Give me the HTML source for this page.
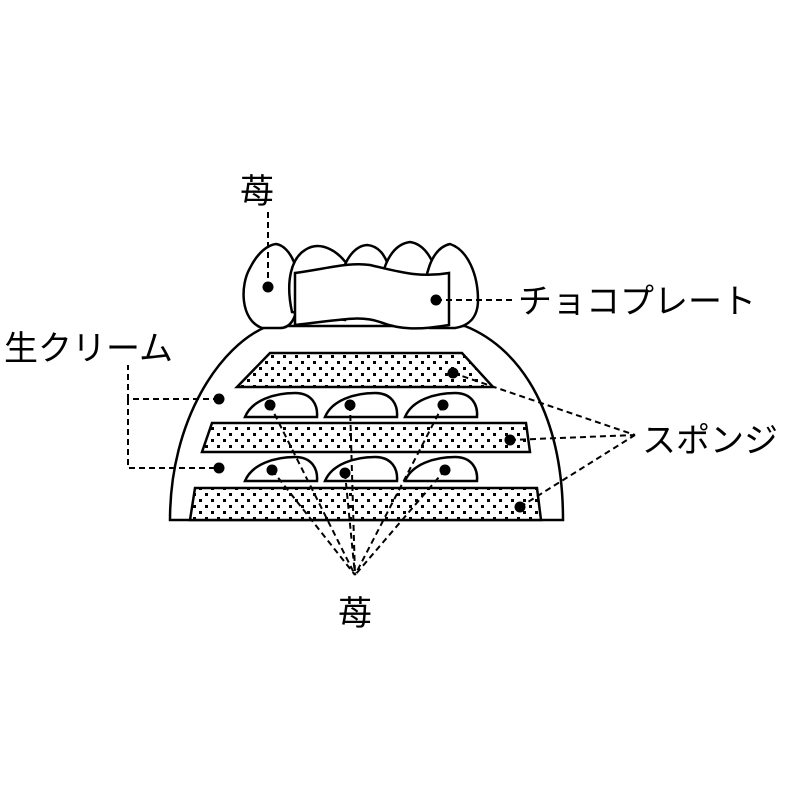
<!DOCTYPE html>
<html><head><meta charset="utf-8"><style>
body{margin:0;background:#fff}
svg{display:block}
text{font-family:"Liberation Sans","Noto Sans CJK JP",sans-serif;font-size:34px;fill:#000}
</style></head><body>
<svg width="800" height="800" viewBox="0 0 800 800" xmlns="http://www.w3.org/2000/svg">
<defs>
<pattern id="dots" width="12" height="12" patternUnits="userSpaceOnUse">
<rect width="12" height="12" fill="#fff"/>
<rect x="1" y="1" width="3" height="3" fill="#000"/>
<rect x="7" y="7" width="3" height="3" fill="#000"/>
</pattern>
</defs>
<g stroke="#000" stroke-width="2.5" fill="#fff">
<path d="M170,520 C170,420 220,345 268,326 L465,326 C525,350 563,420 563,520 Z"/>
<path d="M262,328 C240,320 240,285 250,268 C258,252 268,245 276,244 C290,246 302,270 298,300 C296,320 290,328 280,328 Z"/>
<path d="M292,312 C285,280 292,258 305,250 C320,240 340,250 352,272 L345,320 Z"/>
<path d="M340,280 C345,258 355,246 367,245 C380,246 388,258 390,275 Z"/>
<path d="M380,285 C385,258 395,244 410,242 C424,244 434,258 440,285 Z"/>
<path d="M425,310 C422,275 432,248 450,244 C468,250 478,275 478,300 C478,318 468,326 455,328 L430,328 Z"/>
<path d="M295,273 C330,268 350,262 370,265 C400,272 420,278 449,273 L449,325 C420,330 400,330 380,322 C360,315 340,320 295,325 Z"/>
<path d="M270,353 L462,353 L493,387 L237,387 Z" fill="url(#dots)"/>
<path d="M212,423 L526,423 L530,452 L202,452 Z" fill="url(#dots)"/>
<path d="M195,488 L537,488 L541,520 L190,520 Z" fill="url(#dots)"/>
<path d="M245,417 C252,400 275,393 295,393 C312,393 318,405 317,417 Z"/>
<path d="M325,417 C332,400 355,393 375,393 C392,393 398,405 397,417 Z"/>
<path d="M405,417 C412,400 435,393 455,393 C472,393 478,405 477,417 Z"/>
<path d="M245,481 C252,464 275,457 295,457 C312,457 318,469 317,481 Z"/>
<path d="M325,481 C332,464 355,457 375,457 C392,457 398,469 397,481 Z"/>
<path d="M405,481 C412,464 435,457 455,457 C472,457 478,469 477,481 Z"/>
</g>
<g stroke="#000" stroke-width="2" stroke-dasharray="6,4" fill="none">
<path d="M268,212 L268,287"/>
<path d="M436,300 L512,300"/>
<path d="M219,399 L128,399 L128,365 M128,399 L128,468 L219,468"/>
<path d="M453,373 L635,435 M510,440 L635,435 M520,507 L635,435"/>
<path d="M270,405 L355,575 M350,405 L355,575 M443,405 L355,575 M272,470 L355,575 M345,473 L355,575 M445,470 L355,575"/>
</g>
<g fill="#000">
<circle cx="268" cy="287" r="5.5"/><circle cx="436" cy="300" r="5.5"/>
<circle cx="219" cy="399" r="5.5"/><circle cx="219" cy="468" r="5.5"/>
<circle cx="453" cy="373" r="5.5"/><circle cx="510" cy="440" r="5.5"/><circle cx="520" cy="507" r="5.5"/>
<circle cx="270" cy="405" r="5.5"/><circle cx="350" cy="405" r="5.5"/><circle cx="443" cy="405" r="5.5"/>
<circle cx="272" cy="470" r="5.5"/><circle cx="345" cy="473" r="5.5"/><circle cx="445" cy="470" r="5.5"/>
</g>
<text x="240" y="203">苺</text>
<text x="518" y="313">チョコプレート</text>
<text x="4" y="360">生クリーム</text>
<text x="642" y="452">スポンジ</text>
<text x="338" y="625">苺</text>
</svg>
</body></html>
